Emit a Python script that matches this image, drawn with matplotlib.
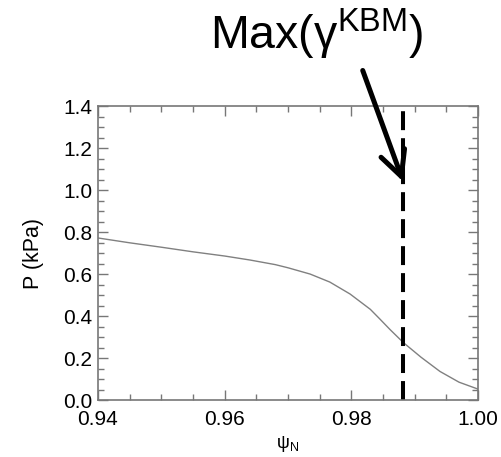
import matplotlib
matplotlib.use('Agg')
import matplotlib.pyplot as plt
from matplotlib.ticker import MultipleLocator, FuncFormatter

plt.rcParams['font.family'] = ['Liberation Sans', 'DejaVu Sans']
plt.rcParams['mathtext.fontset'] = 'custom'
plt.rcParams['mathtext.rm'] = 'Liberation Sans'
plt.rcParams['mathtext.it'] = 'Liberation Sans:italic'

# pressure profile
psi_n = [0.940, 0.945, 0.950, 0.955, 0.960, 0.964, 0.968, 0.970, 0.9735,
         0.9766, 0.9798, 0.983, 0.9845, 0.9861, 0.9882, 0.991, 0.994,
         0.997, 1.000]
pressure = [0.772, 0.749, 0.728, 0.706, 0.686, 0.667, 0.645, 0.630, 0.600,
            0.562, 0.505, 0.432, 0.386, 0.336, 0.274, 0.204, 0.136,
            0.085, 0.052]

# location of max KBM growth rate
psi_max_kbm = 0.9882
arrow_tail = (0.9818, 1.57)
arrow_tip = (0.9882, 1.04)

fig = plt.figure(figsize=(5.02, 4.57), dpi=100)
ax = fig.add_axes([0.1952, 0.1247, 0.757, 0.643])

ax.plot(psi_n, pressure, color='#808080', lw=1.0)
ax.axvline(psi_max_kbm, color='black', lw=2.9, dashes=(4.7, 2.0))

ax.set_xlim(0.94, 1.00)
ax.set_ylim(0.0, 1.4)
ax.xaxis.set_major_locator(MultipleLocator(0.02))
ax.xaxis.set_minor_locator(MultipleLocator(0.005))
ax.yaxis.set_major_locator(MultipleLocator(0.2))
ax.yaxis.set_minor_locator(MultipleLocator(0.05))
ax.xaxis.set_major_formatter(FuncFormatter(lambda v, p: '%.2f' % v))
ax.yaxis.set_major_formatter(FuncFormatter(lambda v, p: '%.1f' % v))

ax.tick_params(which='both', direction='in', top=True, right=True,
               color='#777777', labelsize=15, labelcolor='black')
ax.tick_params(which='major', length=7, width=1)
ax.tick_params(which='minor', length=4, width=1)
ax.tick_params(axis='x', pad=7)
ax.tick_params(axis='y', pad=4)
for s in ax.spines.values():
    s.set_color('#777777')
    s.set_linewidth(1.2)

ax.set_xlabel('ψ$_{\\mathrm{N}}$', fontsize=13, labelpad=4)
ax.set_ylabel('P (kPa)', fontsize=15.5, labelpad=14)

ax.annotate('', xy=arrow_tip, xytext=arrow_tail, annotation_clip=False,
            arrowprops=dict(arrowstyle='->,head_length=1.0,head_width=0.5',
                            lw=3.6, color='black', mutation_scale=18,
                            shrinkA=0, shrinkB=0))

fig.text(0.630, 0.892, 'Max(γ$^{\\mathrm{KBM}}$)', fontsize=33.5,
         ha='center', va='baseline')

fig.savefig('out.png', dpi=100)
